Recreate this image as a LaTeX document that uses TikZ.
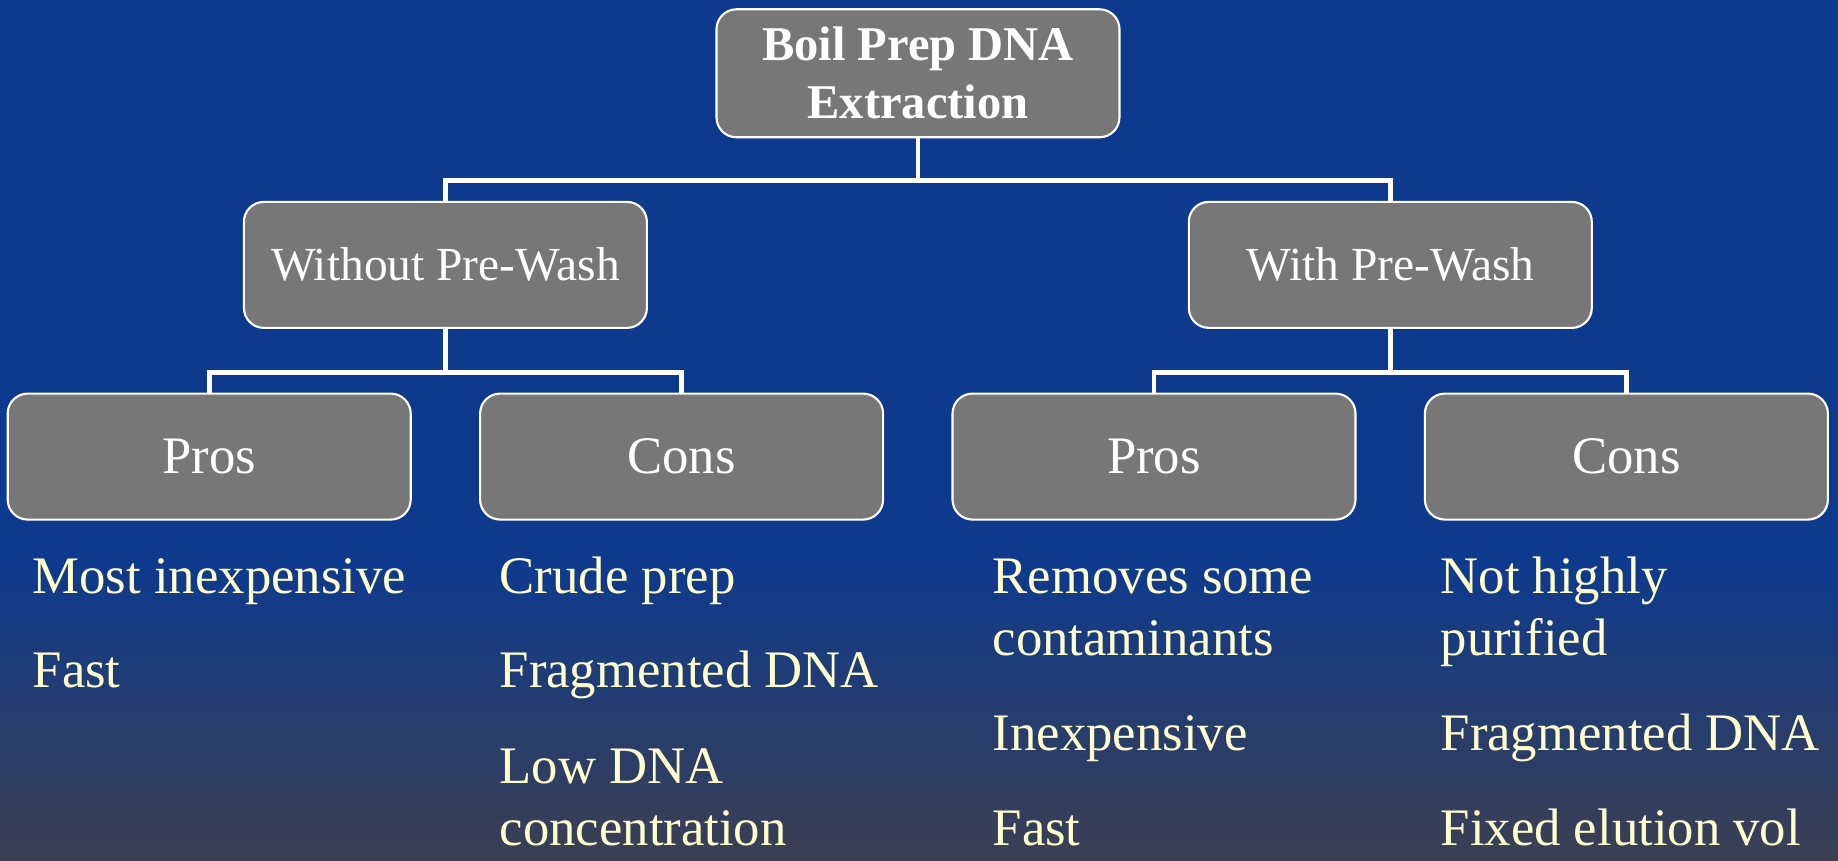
\documentclass[tikz,border=0pt]{standalone}
\usepackage{fontspec}
\setmainfont{Liberation Serif}
\usetikzlibrary{positioning,calc}
\definecolor{bgblue}{HTML}{0E3A8E}
\definecolor{bgdark}{HTML}{3B3F52}
\definecolor{boxgray}{HTML}{777777}
\definecolor{itemcream}{HTML}{FFFFCC}
\tikzset{
  box/.style={draw=white, line width=0.6pt, fill=boxgray, rounded corners=0.2cm, align=center,
    text=white, minimum width=4.03cm, minimum height=1.26cm, inner sep=0pt},
  conn/.style={white, line width=1.4pt},
  item/.style={anchor=base west, align=left, text=itemcream, inner sep=0pt,
    font=\fontsize{15}{17.9}\selectfont},
}

\begin{document}
\begin{tikzpicture}
        % background
        \fill[bgblue] (0,0) rectangle (18.38,-5.6);
        \shade[top color=bgblue, bottom color=bgdark] (0,-5.6) rectangle (18.38,-8.61);
        \useasboundingbox (0,0) rectangle (18.38,-8.61);
        % boxes
        \node[box, minimum height=1.28cm, font=\bfseries\fontsize{13.8}{16.5}\selectfont]
          (top) at (9.18,-0.733) {Boil Prep DNA\\Extraction};
        \node[box, font=\fontsize{13.5}{16}\selectfont] (wo) at (4.454,-2.649) {Without Pre-Wash};
        \node[box, font=\fontsize{13.5}{16}\selectfont] (wi) at (13.903,-2.649) {With Pre-Wash};
        \node[box, font=\fontsize{15}{18}\selectfont] (woPros) at (2.092,-4.566) {Pros};
        \node[box, font=\fontsize{15}{18}\selectfont] (woCons) at (6.816,-4.566) {Cons};
        \node[box, font=\fontsize{15}{18}\selectfont] (wiPros) at (11.54,-4.566) {Pros};
        \node[box, font=\fontsize{15}{18}\selectfont] (wiCons) at (16.264,-4.566) {Cons};
        % connectors
        \draw[conn] (top.south) -- ++(0,-0.42) coordinate (topj);
        \draw[conn] (topj) -| (wo.north);
        \draw[conn] (topj) -| (wi.north);
        \draw[conn] (wo.south) -- ++(0,-0.435) coordinate (woj);
        \draw[conn] (woj) -| (woPros.north);
        \draw[conn] (woj) -| (woCons.north);
        \draw[conn] (wi.south) -- ++(0,-0.435) coordinate (wij);
        \draw[conn] (wij) -| (wiPros.north);
        \draw[conn] (wij) -| (wiCons.north);
        % items (multi-line ones sit on their last baseline)
        \node[item] (woProsA) at (0.32,-5.94) {Most inexpensive};
        \node[item] (woProsB) at (0.32,-6.88) {Fast};
        \node[item] (woConsA) at (4.99,-5.94) {Crude prep};
        \node[item] (woConsB) at (4.99,-6.88) {Fragmented DNA};
        \node[item] (woConsC) at (4.99,-8.46) {Low DNA\\concentration};
        \node[item] (wiProsA) at (9.92,-6.56) {Removes some\\contaminants};
        \node[item] (wiProsB) at (9.92,-7.51) {Inexpensive};
        \node[item] (wiProsC) at (9.92,-8.46) {Fast};
        \node[item] (wiConsA) at (14.40,-6.56) {Not highly\\purified};
        \node[item] (wiConsB) at (14.40,-7.51) {Fragmented DNA};
        \node[item] (wiConsC) at (14.40,-8.46) {Fixed elution vol};
      \end{tikzpicture}
\end{document}
